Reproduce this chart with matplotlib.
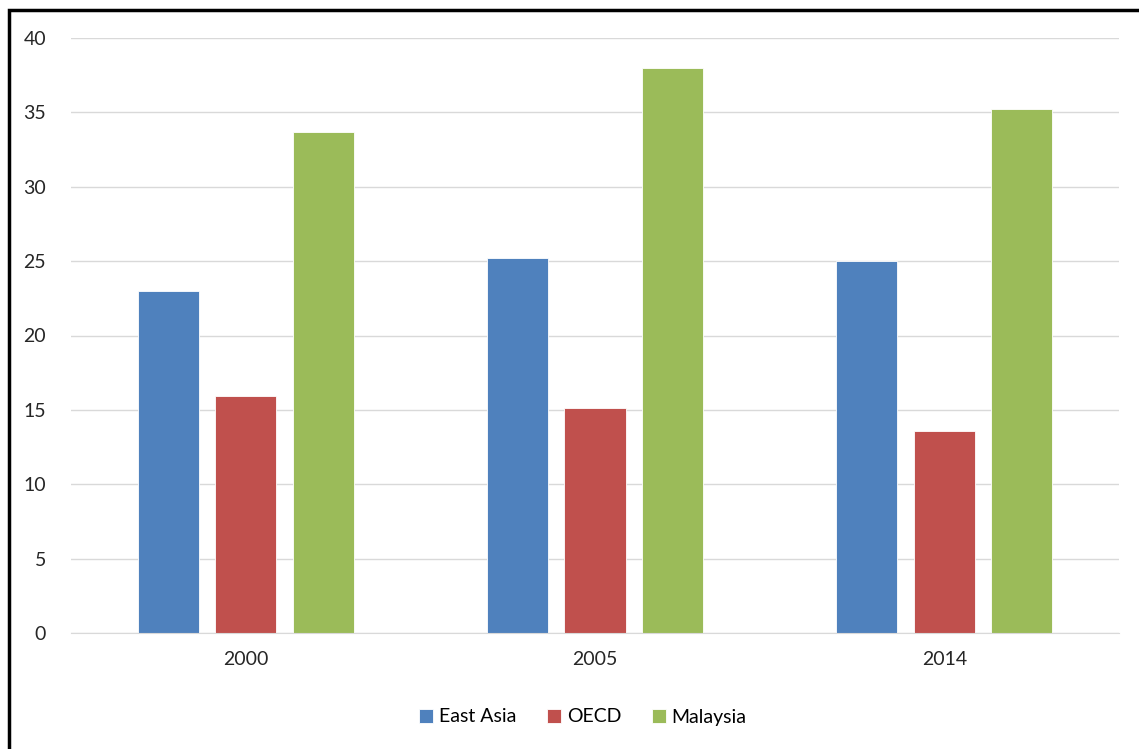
import matplotlib
matplotlib.use("Agg")
import matplotlib.pyplot as plt
from matplotlib.patches import Rectangle
import numpy as np

years = ["2000", "2005", "2014"]
east_asia = [23.0, 25.2, 25.0]
oecd = [15.9, 15.1, 13.6]
malaysia = [33.7, 38.0, 35.2]
series_names = ["East Asia", "OECD", "Malaysia"]
colors = ["#4F81BD", "#C0504D", "#9BBB59"]

plt.rcParams["font.family"] = ["Lato", "DejaVu Sans"]

fig = plt.figure(figsize=(11.39, 7.49), dpi=100)
ax = fig.add_axes([71 / 1139, 1 - 633 / 749, (1119 - 71) / 1139, (633 - 38) / 749])

x = np.arange(len(years))
width = 0.175
step = 0.222
for i, (vals, name, c) in enumerate(zip([east_asia, oecd, malaysia], series_names, colors)):
    ax.bar(x + (i - 1) * step, vals, width, color=c, label=name, zorder=2,
           edgecolor="white", linewidth=0.6)

ax.set_xlim(-0.5, len(years) - 0.5)
ax.set_ylim(0, 40)
ax.set_yticks(np.arange(0, 41, 5))
ax.set_xticks(x)
ax.set_xticklabels(years)
ax.yaxis.grid(True, color="#d9d9d9", linewidth=1.0, zorder=0)
ax.set_axisbelow(True)
for s in ["top", "right", "left"]:
    ax.spines[s].set_visible(False)
ax.spines["bottom"].set_color("#d9d9d9")
ax.tick_params(axis="both", length=0, labelsize=14, colors="#262626")
ax.tick_params(axis="y", pad=18)
ax.tick_params(axis="x", pad=13)

fig.legend(loc="center", bbox_to_anchor=(583 / 1139, 1 - 717 / 749), ncol=3,
           frameon=False, fontsize=14, handlelength=0.7, handleheight=0.7,
           handletextpad=0.3, columnspacing=1.6)

# outer frame
fig.patches.append(Rectangle((9 / 1139, -0.05), 1.1, 1 - 10 / 749 + 0.05,
                             transform=fig.transFigure, fill=False,
                             edgecolor="black", linewidth=2.5))

fig.savefig("out.png", dpi=100, facecolor="white")
